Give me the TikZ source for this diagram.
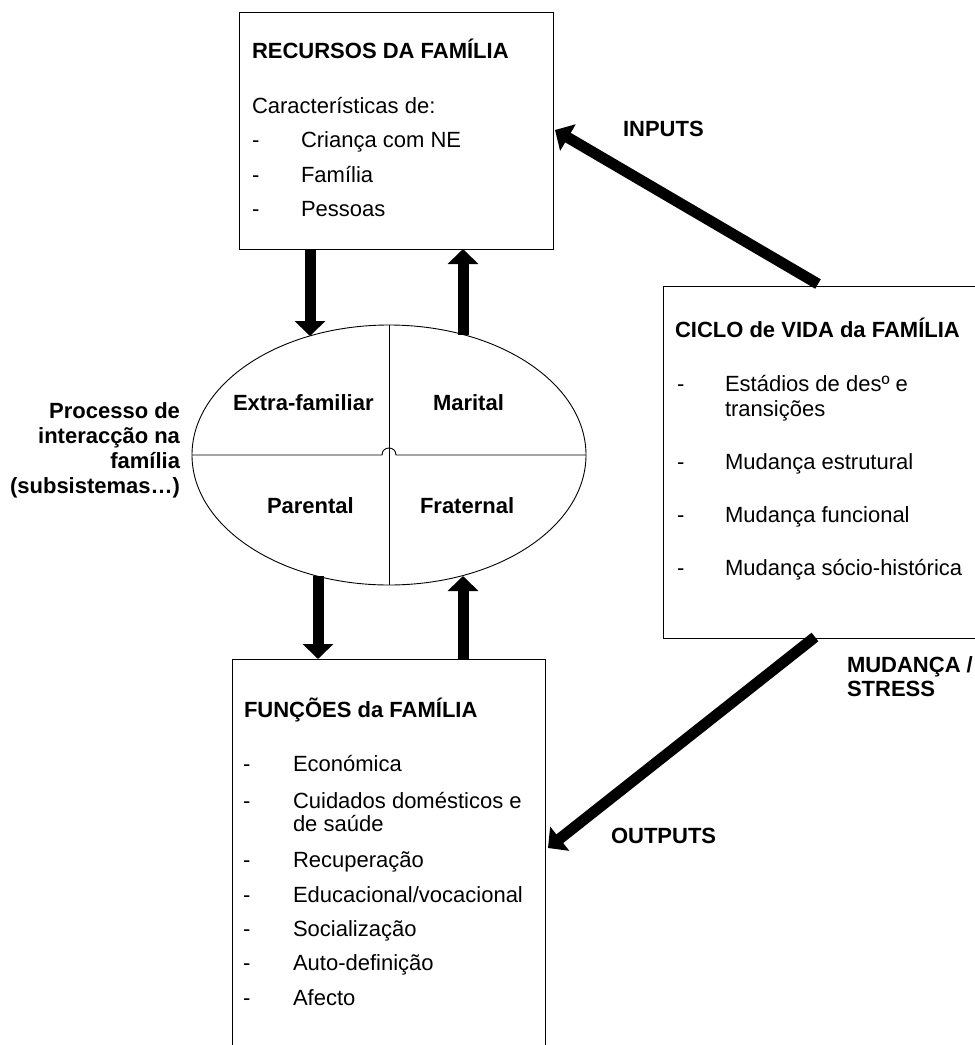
\documentclass[tikz,border=0pt]{standalone}
\usepackage{fontspec}
\setmainfont{Liberation Sans}
\usetikzlibrary{arrows.meta,shapes.geometric,calc}
\begin{document}
\begin{tikzpicture}[x=1pt,y=-1pt,
  every node/.style={inner sep=0pt,outer sep=0pt},
  frame/.style={draw=black,line width=0.9pt,anchor=north west},
  txt/.style={anchor=base west,font=\fontsize{22}{26}\selectfont},
  head/.style={anchor=base west,font=\fontsize{22}{26}\selectfont\bfseries},
  headr/.style={anchor=base east,font=\fontsize{22}{26}\selectfont\bfseries},
  fat/.style={line width=11pt,-{Triangle[length=15pt,width=30pt]}},
]
\path[use as bounding box] (0,0) rectangle (975,1045);
\clip (0,0) rectangle (975,1045);

% boxes
\node[frame,minimum width=314pt,minimum height=237pt] (rec) at (239,12) {};
\node[frame,minimum width=340pt,minimum height=352pt] (ciclo) at (663,286) {};
\node[frame,minimum width=313pt,minimum height=420pt] (func) at (232,659) {};

% family interaction ellipse with its four subsystems
\node[draw,ellipse,line width=0.9pt,minimum width=394pt,minimum height=260pt] (proc) at (389,455) {};
\draw[line width=0.9pt] (proc.north) -- (proc.south);
\draw[line width=0.9pt] (proc.west) -- ($(proc.center)+(-7,0)$)
  .. controls +(0,-9.33) and +(0,-9.33) .. ($(proc.center)+(7,0)$) -- (proc.east);

\node[head] (extra) at (233,410) {Extra-familiar};
\node[head] (marital) at (433,410) {Marital};
\node[head] (parental) at (267,513) {Parental};
\node[head] (fraternal) at (420,513) {Fraternal};

% side label
\node[headr] (p1) at (180,418) {Processo de};
\node[headr] (p2) at (180,443) {interacção na};
\node[headr] (p3) at (180,468) {família};
\node[headr] (p4) at (180,493) {(subsistemas…)};

% resources box text
\node[head] (recT) at (252,58) {RECURSOS DA FAMÍLIA};
\node[txt] (recC) at (252,113) {Características de:};
\node[txt] (rd1) at (252,147) {-};
\node[txt] (ri1) at (301,147) {Criança com NE};
\node[txt] (rd2) at (252,182) {-};
\node[txt] (ri2) at (301,182) {Família};
\node[txt] (rd3) at (252,216) {-};
\node[txt] (ri3) at (301,216) {Pessoas};

% life-cycle box text
\node[head] (cicT) at (675,337) {CICLO de VIDA da FAMÍLIA};
\node[txt] (cd1) at (677,391) {-};
\node[txt] (ci1) at (725,391) {Estádios de desº e};
\node[txt] (ci1b) at (725,416) {transições};
\node[txt] (cd2) at (677,469) {-};
\node[txt] (ci2) at (725,469) {Mudança estrutural};
\node[txt] (cd3) at (677,522) {-};
\node[txt] (ci3) at (725,522) {Mudança funcional};
\node[txt] (cd4) at (677,575) {-};
\node[txt] (ci4) at (725,575) {Mudança sócio-histórica};

% functions box text
\node[head] (funT) at (244,717) {FUNÇÕES da FAMÍLIA};
\node[txt] (fd1) at (243,771) {-};
\node[txt] (fi1) at (293,771) {Económica};
\node[txt] (fd2) at (243,808) {-};
\node[txt] (fi2) at (293,808) {Cuidados domésticos e};
\node[txt] (fi2b) at (293,831) {de saúde};
\node[txt] (fd3) at (243,867) {-};
\node[txt] (fi3) at (293,867) {Recuperação};
\node[txt] (fd4) at (243,902) {-};
\node[txt] (fi4) at (293,902) {Educacional/vocacional};
\node[txt] (fd5) at (243,936) {-};
\node[txt] (fi5) at (293,936) {Socialização};
\node[txt] (fd6) at (243,970) {-};
\node[txt] (fi6) at (293,970) {Auto-definição};
\node[txt] (fd7) at (243,1005) {-};
\node[txt] (fi7) at (293,1005) {Afecto};

% flow labels
\node[head] (inputs) at (623,136) {INPUTS};
\node[head] (outputs) at (611,843) {OUTPUTS};
\node[head] (mud1) at (847,672) {MUDANÇA /};
\node[head] (mud2) at (847,696) {STRESS};

% arrow end points on the boxes and the ellipse
\coordinate (recL) at (310,249);
\coordinate (recR) at (463,249);
\coordinate (procTL) at (310,336);
\coordinate (procTR) at (463,335);
\coordinate (procBL) at (318,576);
\coordinate (procBR) at (463,576);
\coordinate (funcL) at (318,659);
\coordinate (funcR) at (463,659);
\coordinate (recE) at (555,130);
\coordinate (cicTop) at (818,284);
\coordinate (cicBot) at (815,637);
\coordinate (funcE) at (548,848);

% thick arrows
\draw[fat] (recL) -- (procTL);
\draw[fat] (procTR) -- (recR);
\draw[fat] (procBL) -- (funcL);
\draw[fat] (funcR) -- (procBR);
\draw[fat] (cicTop) -- (recE);
\draw[fat] (cicBot) -- (funcE);
\end{tikzpicture}
\end{document}
